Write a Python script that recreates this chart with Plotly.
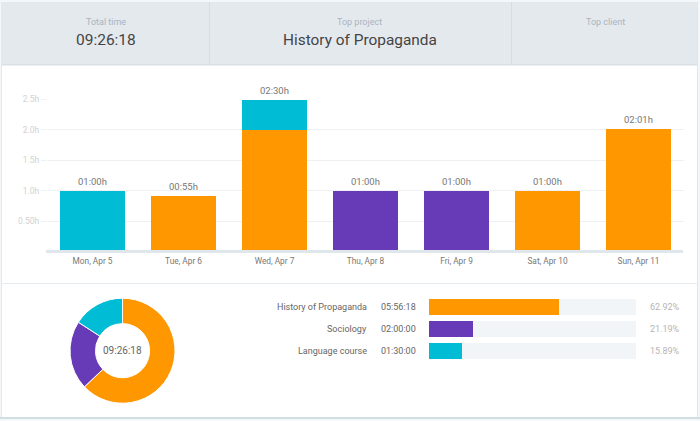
import plotly.graph_objects as go

days = ["Mon, Apr 5", "Tue, Apr 6", "Wed, Apr 7", "Thu, Apr 8", "Fri, Apr 9", "Sat, Apr 10", "Sun, Apr 11"]
history = [0, 0.92, 2.0, 0, 0, 1.0, 2.02]
sociology = [0, 0, 0, 1.0, 1.0, 0, 0]
language = [1.0, 0, 0.5, 0, 0, 0, 0]
day_totals = [1.0, 0.92, 2.5, 1.0, 1.0, 1.0, 2.02]
day_labels = ["01:00h", "00:55h", "02:30h", "01:00h", "01:00h", "01:00h", "02:01h"]
y_ticks = [0.5, 1.0, 1.5, 2.0, 2.5]
y_tick_labels = ["0.50h", "1.0h", "1.5h", "2.0h", "2.5h"]

projects = ["History of Propaganda", "Sociology", "Language course"]
durations = ["05:56:18", "02:00:00", "01:30:00"]
shares = [62.92, 21.19, 15.89]
share_labels = ["62.92%", "21.19%", "15.89%"]
colors = ["#ff9800", "#673ab7", "#00bcd4"]
total_time = "09:26:18"
top_project = "History of Propaganda"

W, H = 700, 421
FONT = "Roboto"
def px(v): return v / W
def py(v): return 1 - v / H

fig = go.Figure()
for name, vals, col in zip(projects, [history, sociology, language], colors):
    fig.add_trace(go.Bar(x=days, y=vals, name=name, marker=dict(color=col, line=dict(width=0)),
                         width=0.715, xaxis="x", yaxis="y", showlegend=False))

# share bars with pale remainder stacked on each
fig.add_trace(go.Bar(y=projects, x=shares, orientation="h", marker=dict(color=colors, line=dict(width=0)),
                     width=0.727, xaxis="x2", yaxis="y2", showlegend=False))
fig.add_trace(go.Bar(y=projects, x=[100 - s for s in shares], orientation="h",
                     marker=dict(color="#f1f5f8", line=dict(width=0)),
                     width=0.727, xaxis="x2", yaxis="y2", showlegend=False))

fig.add_trace(go.Pie(labels=projects, values=shares, sort=False, direction="clockwise", rotation=0,
                     hole=0.515, marker=dict(colors=colors, line=dict(color="#fff", width=1)),
                     textinfo="none", showlegend=False,
                     domain=dict(x=[px(70), px(175)], y=[py(403.2), py(298.2)])))

ann = []
def text(x, y, s, size, color, anchor="center", xref="paper", yref="paper"):
    ann.append(dict(x=x, y=y, text=s, xref=xref, yref=yref, showarrow=False, xanchor=anchor, yanchor="middle",
                    font=dict(family=FONT, size=size, color=color)))

text(px(105.5), py(22), "Total time", 9, "#a9b4bf")
text(px(105.5), py(40), total_time, 15.5, "#444")
text(px(360), py(22), "Top project", 9, "#a9b4bf")
text(px(360), py(40), top_project, 15.4, "#444")
text(px(605), py(22), "Top client", 9, "#a9b4bf")
text(px(122.5), py(350.5), total_time, 10, "#666")
for p, d, l in zip(projects, durations, share_labels):
    text(px(369.5), p, p, 9, "#666", "right", yref="y2")
    text(px(379), p, d, 9, "#666", "left", yref="y2")
    text(px(648), p, l, 9, "#b5b5b5", "left", yref="y2")
for d, t, l in zip(days, day_totals, day_labels):
    ann.append(dict(x=d, y=t, text=l, xref="x", yref="y", showarrow=False, yanchor="bottom", yshift=2,
                    font=dict(family=FONT, size=9.5, color="#777")))

def rect(x0, y0, x1, y1, fill, layer="below"):
    return dict(type="rect", xref="paper", yref="paper", x0=px(x0), x1=px(x1), y0=py(y0), y1=py(y1),
                fillcolor=fill, line=dict(color=fill, width=0), layer=layer)

shapes = [
    rect(0, 0, 700, 421, "#f4f7f9"),
    rect(2, 2, 697, 417, "#ffffff"),
    rect(2, 2, 697, 65, "#e4e9ee"),
    rect(209, 2, 210, 65, "#d5dde4"),
    rect(511, 2, 512, 65, "#d5dde4"),
    rect(2, 64, 697, 65.5, "#d9e1e7"),
    rect(2, 283, 697, 284, "#e6ebef"),
    rect(0, 417, 700, 419, "#d3dde4"),
    rect(697, 2, 698, 417, "#dfe6ec"),
    rect(1, 2, 2, 417, "#e3e9ee"),
    rect(46, 250, 683, 253, "#dfe6ec", layer="above"),
]

fig.update_layout(
    width=W, height=H, autosize=False, margin=dict(l=0, r=0, t=0, b=0, autoexpand=False),
    paper_bgcolor="#ffffff", plot_bgcolor="rgba(0,0,0,0)", barmode="stack",
    font=dict(family=FONT), annotations=ann, shapes=shapes,
    xaxis=dict(domain=[px(47), px(684)], type="category", categoryorder="array", categoryarray=days,
               showgrid=False, showline=False, ticks="", ticklabelstandoff=3,
               tickfont=dict(family=FONT, size=8.3, color="#777"), anchor="y"),
    yaxis=dict(domain=[py(251.5), py(99.5)], range=[0, 2.5], tickvals=y_ticks, ticktext=y_tick_labels,
               showgrid=True, gridcolor="#eef1f3", gridwidth=1, ticks="outside", ticklen=5, tickcolor="#eef1f3",
               zeroline=False, tickfont=dict(family=FONT, size=8.5, color="#d2d2d2"), anchor="x"),
    xaxis2=dict(domain=[px(429), px(636)], range=[0, 100], visible=False, anchor="y2"),
    yaxis2=dict(domain=[py(362), py(296)], type="category", categoryorder="array",
                categoryarray=projects[::-1], visible=False, anchor="x2"),
)
fig.write_html("out.html", config={"displayModeBar": False},
               post_script="document.body.style.margin='0';document.documentElement.style.overflow='hidden';"
                           "var g=document.getElementsByClassName('plotly-graph-div')[0];"
                           "g.style.position='absolute';g.style.top='0';g.style.left='0';")
